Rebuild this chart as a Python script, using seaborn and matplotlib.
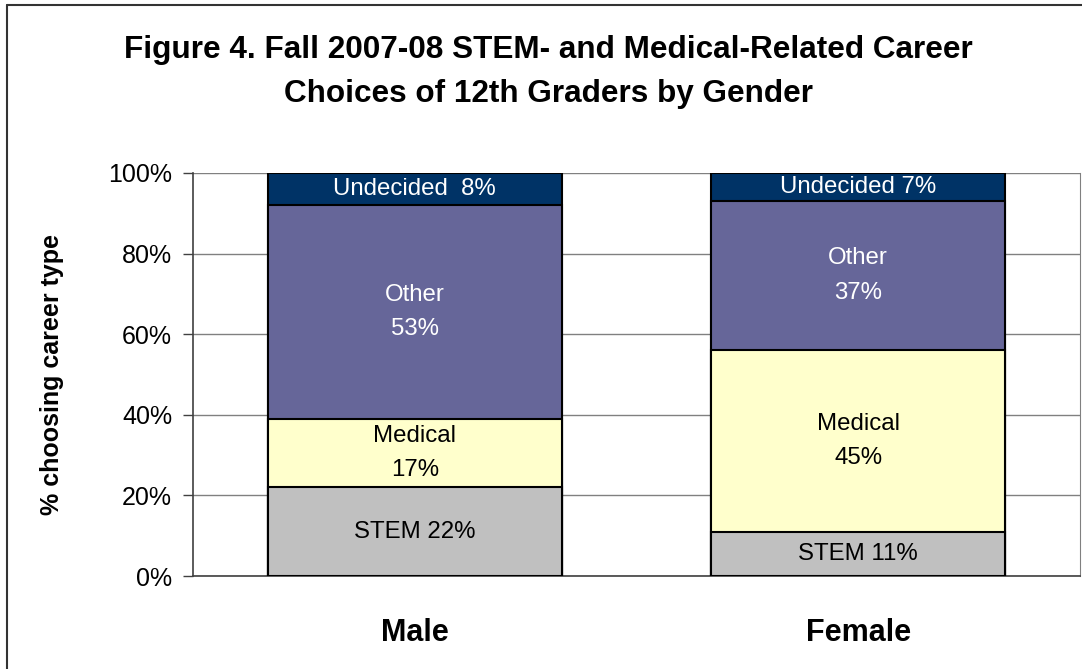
import pandas as pd
import matplotlib
matplotlib.use('Agg')
import matplotlib.pyplot as plt
import seaborn as sns
from matplotlib.lines import Line2D

genders = ['Male', 'Female']
career_types = ['STEM', 'Medical', 'Other', 'Undecided']
stem = [22, 11]
medical = [17, 45]
other = [53, 37]
undecided = [8, 7]
seg_labels = {
    'STEM': ['STEM 22%', 'STEM 11%'],
    'Medical': ['Medical\n17%', 'Medical\n45%'],
    'Other': ['Other\n53%', 'Other\n37%'],
    'Undecided': ['Undecided  8%', 'Undecided 7%'],
}
colors = {'STEM': '#C0C0C0', 'Medical': '#FFFFCC', 'Other': '#666699', 'Undecided': '#003366'}
text_colors = {'STEM': 'black', 'Medical': 'black', 'Other': 'white', 'Undecided': 'white'}

df = pd.DataFrame({'gender': genders, 'STEM': stem, 'Medical': medical,
                   'Other': other, 'Undecided': undecided})
cum = df[career_types].cumsum(axis=1)
bottoms = cum - df[career_types]

sns.set_style('white')
plt.rcParams['font.family'] = ['Liberation Sans', 'DejaVu Sans']
plt.rcParams.update({'text.color': 'black', 'axes.labelcolor': 'black',
                     'xtick.color': 'black', 'ytick.color': 'black'})

fig = plt.figure(figsize=(10.82, 6.69), dpi=100)
ax = fig.add_axes([193/1082, 93/669, 887/1082, 403/669])

# stacked bars: draw cumulative totals from the top layer down
for ct in reversed(career_types):
    sns.barplot(x=df['gender'], y=cum[ct], color=colors[ct], width=0.663,
                edgecolor='black', linewidth=1.5, saturation=1, ax=ax, zorder=3)

for ct in career_types:
    for i in range(len(genders)):
        ymid = bottoms.loc[i, ct] + df.loc[i, ct] / 2
        ax.text(i, ymid, seg_labels[ct][i], ha='center', va='center',
                fontsize=17.3, color=text_colors[ct], linespacing=1.75, zorder=5)

ax.set_xlim(-0.5, 1.5)
ax.set_ylim(0, 100)
ax.set_yticks([0, 20, 40, 60, 80, 100])
ax.set_yticklabels([f'{v}%' for v in [0, 20, 40, 60, 80, 100]], fontsize=18)
ax.set_xticks([0, 1])
ax.set_xticklabels(genders, fontsize=22, fontweight='bold')
ax.set_xticks([-0.5, 0.5, 1.5], minor=True)
ax.tick_params(axis='x', which='major', length=0, pad=30)
ax.tick_params(axis='x', which='minor', length=7, width=1, color='#404040', direction='out')
ax.tick_params(axis='y', length=7, width=1, color='#404040', direction='out', left=True, pad=8)
ax.yaxis.grid(True, color='#808080', linewidth=1, zorder=0)
ax.set_axisbelow(True)
ax.set_xlabel('')
ax.set_ylabel('% choosing career type', fontsize=18, fontweight='bold')
ax.yaxis.set_label_coords(-0.145, 0.5)

for s in ['left', 'bottom']:
    ax.spines[s].set_color('#404040')
    ax.spines[s].set_linewidth(1.2)
ax.spines['right'].set_color('#808080')
ax.spines['top'].set_visible(False)

fig.text(548/1082, 1 - 72/669,
         'Figure 4. Fall 2007-08 STEM- and Medical-Related Career\nChoices of 12th Graders by Gender',
         ha='center', va='center', fontsize=22.7, fontweight='bold', linespacing=1.58)

# outer chart frame
fig.add_artist(Line2D([7/1082, 7/1082], [0, 1 - 5/669], color='#333333', linewidth=1.5))
fig.add_artist(Line2D([7/1082, 1], [1 - 5/669, 1 - 5/669], color='#333333', linewidth=1.5))

fig.savefig('out.png', dpi=100)
